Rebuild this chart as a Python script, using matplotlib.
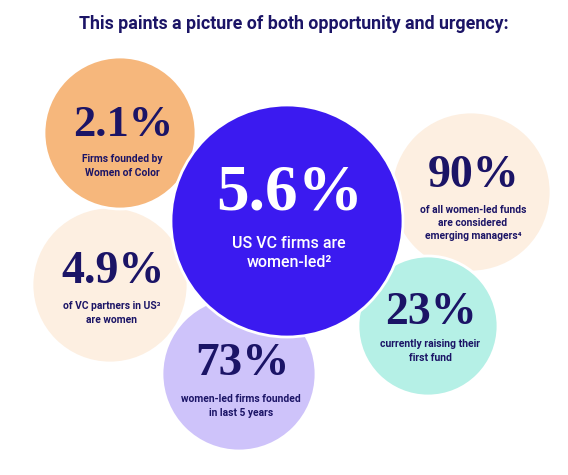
import matplotlib.pyplot as plt
from matplotlib.patches import Circle

# data
title = "This paints a picture of both opportunity and urgency:"
values = ["90%", "4.9%", "2.1%", "23%", "73%", "5.6%"]
labels = [
    "of all women-led funds\nare considered\nemerging managers\u2074",
    "of VC partners in US\u00b3\nare women",
    "Firms founded by\nWomen of Color",
    "currently raising their\nfirst fund",
    "women-led firms founded\nin last 5 years",
    "US VC firms are\nwomen-led\u00b2",
]

# layout (pixels, y down) - drawing order back to front
cx = [471, 110, 120, 428, 239, 287]
cy = [192, 285, 133, 326, 374, 221]
rad = [80, 78, 76, 70, 77, 116]
fills = ["#FDEFE1", "#FDEFE1", "#F6B77C", "#B5F0E6", "#CEC3FA", "#3B1AF0"]
num_y = [176, 272, 125, 313, 364, 193]
lab_y = [223, 313, 166, 351, 406, 253]
num_size = [33, 33, 32, 33, 34, 47]
lab_size = [7.4, 7.4, 7.4, 7.5, 7.4, 11.5]

navy = "#1B1466"
sans = ["Roboto", "DejaVu Sans"]

fig = plt.figure(figsize=(5.68, 4.75), dpi=100)
ax = fig.add_axes([0, 0, 1, 1])
ax.set_xlim(0, 568)
ax.set_ylim(475, 0)
ax.set_aspect("equal")
ax.axis("off")

for i in range(len(values)):
    ax.add_patch(Circle((cx[i], cy[i]), rad[i], facecolor=fills[i],
                        edgecolor="white", linewidth=2, zorder=i + 1))
    col = "white" if i == len(values) - 1 else navy
    ax.text(cx[i] + 3, num_y[i], values[i], ha="center", va="center",
            fontsize=num_size[i], fontweight="bold", family="Liberation Serif",
            color=col, zorder=20)
    ax.text(cx[i] + 2, lab_y[i], labels[i], ha="center", va="center",
            fontsize=lab_size[i], fontweight="bold" if i < 5 else "medium",
            family=sans, color=col, linespacing=1.4, zorder=20)

ax.text(294, 24, title, ha="center", va="center", fontsize=12.8,
        fontweight="bold", family=sans, color=navy)

fig.savefig("out.png", dpi=100)
